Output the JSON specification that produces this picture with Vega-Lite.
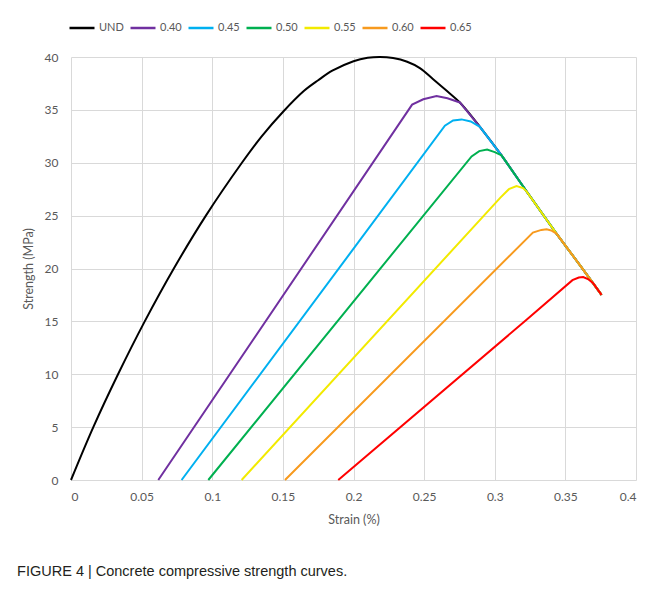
{
  "$schema": "https://vega.github.io/schema/vega-lite/v6.json",
  "width": 565,
  "height": 423,
  "autosize": {"type": "none"},
  "padding": {"left": 71, "top": 57, "right": 19, "bottom": 114},
  "background": "white",
  "title": {
    "text": "FIGURE 4 | Concrete compressive strength curves.",
    "orient": "bottom",
    "anchor": "start",
    "frame": "bounds",
    "font": "Liberation Sans",
    "fontSize": 14.5,
    "fontWeight": "normal",
    "color": "#231f20",
    "offset": 39,
    "dx": -5
  },
  "config": {
    "font": "Lato",
    "view": {"stroke": null},
    "axis": {
      "grid": true,
      "gridColor": "#d9d9d9",
      "gridWidth": 1,
      "domain": false,
      "ticks": false,
      "labelColor": "#595959",
      "labelFont": "Lato",
      "labelFontSize": 12,
      "titleColor": "#595959",
      "titleFont": "Lato",
      "titleFontSize": 12.5,
      "titleFontWeight": "normal"
    },
    "legend": {
      "labelFont": "Lato",
      "labelFontSize": 11,
      "labelColor": "#595959",
      "padding": 0
    }
  },
  "data": {
    "values": [
      {"mix": "UND", "strain": 0, "strength": 0},
      {"mix": "UND", "strain": 0.0158, "strength": 5.0},
      {"mix": "UND", "strain": 0.0333, "strength": 10},
      {"mix": "UND", "strain": 0.0522, "strength": 15},
      {"mix": "UND", "strain": 0.0728, "strength": 20},
      {"mix": "UND", "strain": 0.0955, "strength": 25},
      {"mix": "UND", "strain": 0.121, "strength": 30},
      {"mix": "UND", "strain": 0.135, "strength": 32.5},
      {"mix": "UND", "strain": 0.15, "strength": 34.8},
      {"mix": "UND", "strain": 0.165, "strength": 36.8},
      {"mix": "UND", "strain": 0.175, "strength": 37.8},
      {"mix": "UND", "strain": 0.185, "strength": 38.7},
      {"mix": "UND", "strain": 0.2, "strength": 39.6},
      {"mix": "UND", "strain": 0.21, "strength": 39.92},
      {"mix": "UND", "strain": 0.2187, "strength": 40},
      {"mix": "UND", "strain": 0.228, "strength": 39.9},
      {"mix": "UND", "strain": 0.238, "strength": 39.55},
      {"mix": "UND", "strain": 0.247, "strength": 38.95},
      {"mix": "UND", "strain": 0.2564, "strength": 37.9},
      {"mix": "UND", "strain": 0.266, "strength": 36.8},
      {"mix": "UND", "strain": 0.2753, "strength": 35.7},
      {"mix": "UND", "strain": 0.2895, "strength": 33.4},
      {"mix": "UND", "strain": 0.3048, "strength": 30.7},
      {"mix": "UND", "strain": 0.3225, "strength": 27.3},
      {"mix": "UND", "strain": 0.3437, "strength": 23.3},
      {"mix": "UND", "strain": 0.3626, "strength": 19.9},
      {"mix": "UND", "strain": 0.3756, "strength": 17.5},

      {"mix": "0.40", "strain": 0.0618, "strength": 0},
      {"mix": "0.40", "strain": 0.2415, "strength": 35.5},
      {"mix": "0.40", "strain": 0.2494, "strength": 36.0},
      {"mix": "0.40", "strain": 0.2588, "strength": 36.3},
      {"mix": "0.40", "strain": 0.2665, "strength": 36.1},
      {"mix": "0.40", "strain": 0.2753, "strength": 35.7},
      {"mix": "0.40", "strain": 0.2895, "strength": 33.4},
      {"mix": "0.40", "strain": 0.3048, "strength": 30.7},
      {"mix": "0.40", "strain": 0.3225, "strength": 27.3},
      {"mix": "0.40", "strain": 0.3437, "strength": 23.3},
      {"mix": "0.40", "strain": 0.3626, "strength": 19.9},
      {"mix": "0.40", "strain": 0.3756, "strength": 17.5},

      {"mix": "0.45", "strain": 0.0783, "strength": 0},
      {"mix": "0.45", "strain": 0.2647, "strength": 33.5},
      {"mix": "0.45", "strain": 0.2705, "strength": 34.0},
      {"mix": "0.45", "strain": 0.2765, "strength": 34.1},
      {"mix": "0.45", "strain": 0.283, "strength": 33.9},
      {"mix": "0.45", "strain": 0.2895, "strength": 33.4},
      {"mix": "0.45", "strain": 0.3048, "strength": 30.7},
      {"mix": "0.45", "strain": 0.3225, "strength": 27.3},
      {"mix": "0.45", "strain": 0.3437, "strength": 23.3},
      {"mix": "0.45", "strain": 0.3626, "strength": 19.9},
      {"mix": "0.45", "strain": 0.3756, "strength": 17.5},

      {"mix": "0.50", "strain": 0.0972, "strength": 0},
      {"mix": "0.50", "strain": 0.2836, "strength": 30.6},
      {"mix": "0.50", "strain": 0.289, "strength": 31.1},
      {"mix": "0.50", "strain": 0.2946, "strength": 31.25},
      {"mix": "0.50", "strain": 0.3, "strength": 31.0},
      {"mix": "0.50", "strain": 0.3048, "strength": 30.7},
      {"mix": "0.50", "strain": 0.3225, "strength": 27.3},
      {"mix": "0.50", "strain": 0.3437, "strength": 23.3},
      {"mix": "0.50", "strain": 0.3626, "strength": 19.9},
      {"mix": "0.50", "strain": 0.3756, "strength": 17.5},

      {"mix": "0.55", "strain": 0.1208, "strength": 0},
      {"mix": "0.55", "strain": 0.304, "strength": 26.7},
      {"mix": "0.55", "strain": 0.31, "strength": 27.5},
      {"mix": "0.55", "strain": 0.3154, "strength": 27.8},
      {"mix": "0.55", "strain": 0.32, "strength": 27.6},
      {"mix": "0.55", "strain": 0.3225, "strength": 27.3},
      {"mix": "0.55", "strain": 0.3437, "strength": 23.3},
      {"mix": "0.55", "strain": 0.3626, "strength": 19.9},
      {"mix": "0.55", "strain": 0.3756, "strength": 17.5},

      {"mix": "0.60", "strain": 0.1515, "strength": 0},
      {"mix": "0.60", "strain": 0.327, "strength": 23.4},
      {"mix": "0.60", "strain": 0.333, "strength": 23.65},
      {"mix": "0.60", "strain": 0.3367, "strength": 23.7},
      {"mix": "0.60", "strain": 0.34, "strength": 23.6},
      {"mix": "0.60", "strain": 0.3437, "strength": 23.3},
      {"mix": "0.60", "strain": 0.3626, "strength": 19.9},
      {"mix": "0.60", "strain": 0.3756, "strength": 17.5},

      {"mix": "0.65", "strain": 0.1892, "strength": 0},
      {"mix": "0.65", "strain": 0.3225, "strength": 15.15},
      {"mix": "0.65", "strain": 0.355, "strength": 18.9},
      {"mix": "0.65", "strain": 0.3595, "strength": 19.15},
      {"mix": "0.65", "strain": 0.3626, "strength": 19.2},
      {"mix": "0.65", "strain": 0.366, "strength": 19.0},
      {"mix": "0.65", "strain": 0.3697, "strength": 18.6},
      {"mix": "0.65", "strain": 0.3756, "strength": 17.5}
    ]
  },
  "encoding": {
    "x": {
      "field": "strain",
      "type": "quantitative",
      "scale": {"domain": [0, 0.4], "nice": false, "zero": false},
      "axis": {
        "title": "Strain (%)",
        "values": [0, 0.05, 0.1, 0.15, 0.2, 0.25, 0.3, 0.35, 0.4],
        "format": ".2~f",
        "labelPadding": 11,
        "titlePadding": 11
      }
    },
    "y": {
      "field": "strength",
      "type": "quantitative",
      "scale": {"domain": [0, 40], "nice": false},
      "axis": {
        "title": "Strength (MPa)",
        "values": [0, 5, 10, 15, 20, 25, 30, 35, 40],
        "labelPadding": 13,
        "titlePadding": 9
      }
    },
    "color": {
      "field": "mix",
      "type": "nominal",
      "scale": {
        "domain": ["UND", "0.40", "0.45", "0.50", "0.55", "0.60", "0.65"],
        "range": ["#000000", "#7030a0", "#00b0f0", "#00b050", "#f2ea00", "#f79a1e", "#ff0000"]
      },
      "legend": {
        "title": null,
        "orient": "none",
        "direction": "horizontal",
        "legendX": -3,
        "legendY": -43,
        "symbolType": "stroke",
        "symbolSize": 625,
        "symbolStrokeWidth": 2.5,
        "labelOffset": 3,
        "columnPadding": 1
      }
    }
  },
  "layer": [
    {"transform": [{"filter": "datum.mix === 'UND'"}], "mark": {"type": "line", "interpolate": "catmull-rom", "strokeWidth": 2}},
    {"transform": [{"filter": "datum.mix === '0.40'"}], "mark": {"type": "line", "interpolate": "linear", "strokeWidth": 2}},
    {"transform": [{"filter": "datum.mix === '0.45'"}], "mark": {"type": "line", "interpolate": "linear", "strokeWidth": 2}},
    {"transform": [{"filter": "datum.mix === '0.50'"}], "mark": {"type": "line", "interpolate": "linear", "strokeWidth": 2}},
    {"transform": [{"filter": "datum.mix === '0.55'"}], "mark": {"type": "line", "interpolate": "linear", "strokeWidth": 2}},
    {"transform": [{"filter": "datum.mix === '0.60'"}], "mark": {"type": "line", "interpolate": "linear", "strokeWidth": 2}},
    {"transform": [{"filter": "datum.mix === '0.65'"}], "mark": {"type": "line", "interpolate": "linear", "strokeWidth": 2}}
  ]
}
